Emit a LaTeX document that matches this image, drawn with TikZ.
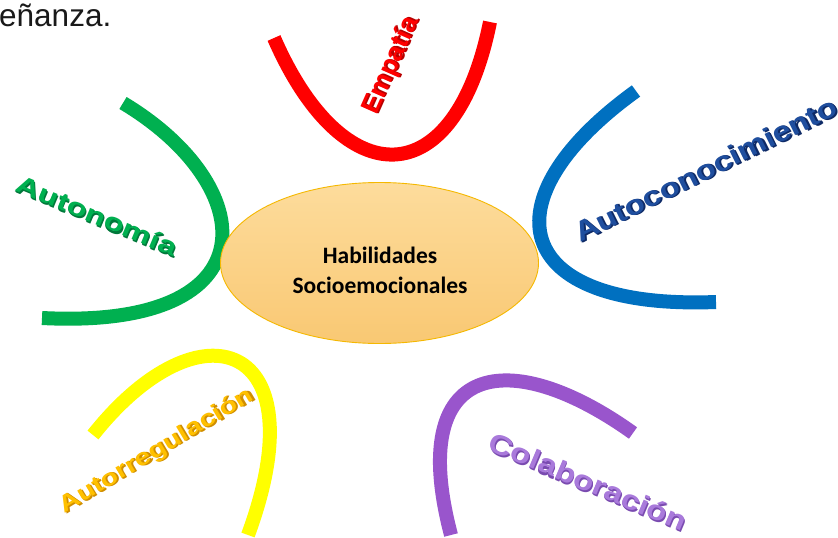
\documentclass[tikz,border=0pt]{standalone}
\usepackage{fontspec}
\setmainfont{Liberation Sans}
\newfontfamily\calib{Carlito}
\usetikzlibrary{shapes.geometric}
\definecolor{cRed}{HTML}{FF0000}
\definecolor{cRedS}{HTML}{B80000}
\definecolor{cGreen}{HTML}{00B050}
\definecolor{cGreenS}{HTML}{00783A}
\definecolor{cBlue}{HTML}{0070C0}
\definecolor{cNavy}{HTML}{1F4E9E}
\definecolor{cNavyS}{HTML}{0E2A66}
\definecolor{cYellow}{HTML}{FFFF00}
\definecolor{cGold}{HTML}{FFC000}
\definecolor{cGoldS}{HTML}{D08E00}
\definecolor{cPurple}{HTML}{9955CC}
\definecolor{cLilac}{HTML}{A97ADB}
\definecolor{cLilacS}{HTML}{7A4BB0}
\definecolor{cEllTop}{HTML}{FDDC9C}
\definecolor{cEllBot}{HTML}{F9C873}
\definecolor{cEllLine}{HTML}{F5B800}
\newcommand{\wordart}[5]{%
  \makebox[0pt][l]{\kern1.6pt\raisebox{-1.6pt}{\color{#4}\resizebox{#1}{#2}{\bfseries #5}}}%
  \makebox[0pt][l]{\kern0.8pt\raisebox{-0.8pt}{\color{#4}\resizebox{#1}{#2}{\bfseries #5}}}%
  {\color{#3}\resizebox{#1}{#2}{\bfseries #5}}}
\begin{document}
\begin{tikzpicture}[x=1pt,y=-1pt,
  arcline/.style={line width=14pt},
  wa/.style={inner sep=0pt, outer sep=0pt}]
\useasboundingbox (0,0) rectangle (838,538);
\clip (0,0) rectangle (838,538);
\fill[white] (0,0) rectangle (838,538);
% text fragment
\node[anchor=base west, inner sep=0pt, text=black!90] (frag) at (-1,27) {\fontsize{31.5}{36}\selectfont eñanza.};
% arcs
\draw[arcline, cRed] (274,38) .. controls (343,196) and (455,196) .. (490,22);
\draw[arcline, cGreen] (123,103) .. controls (260,185) and (275,330) .. (42,318);
\draw[arcline, cBlue] (636,91) .. controls (485,200) and (510,310) .. (716,302);
\draw[arcline, cYellow] (93,435) .. controls (200,300) and (320,340) .. (248,535);
\draw[arcline, cPurple] (451,535) .. controls (405,360) and (510,345) .. (633,433);
% centre
\node[ellipse, draw=cEllLine, line width=0.9pt, top color=cEllTop, bottom color=cEllBot,
      minimum width=318pt, minimum height=161pt, inner sep=0pt] (ell) at (379.5,263) {};
\node[align=center, font=\calib\bfseries\fontsize{23.5}{30}\selectfont, inner sep=0pt] (lbl) at (380,270) {Habilidades\\Socioemocionales};
% word art labels
\node[wa, rotate=66] (emp) at (392,66) {\wordart{104pt}{19pt}{cRed}{cRedS}{Empatía}};
\node[wa, rotate=-22.7] (aut) at (97,216) {\wordart{172pt}{18pt}{cGreen}{cGreenS}{Autonomía}};
\node[wa, rotate=26.5] (aco) at (706,170) {\wordart{290pt}{20pt}{cNavy}{cNavyS}{Autoconocimiento}};
\node[wa, rotate=31] (reg) at (157,452) {\wordart{222pt}{17pt}{cGold}{cGoldS}{Autorregulación}};
\node[wa, rotate=-22.8] (col) at (588,482) {\wordart{212pt}{20pt}{cLilac}{cLilacS}{Colaboración}};
\end{tikzpicture}
\end{document}
